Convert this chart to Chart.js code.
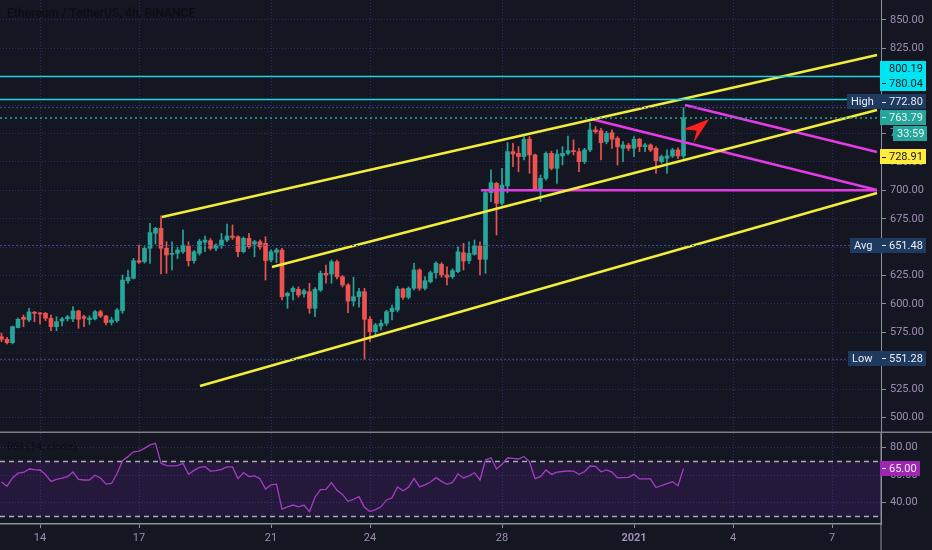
<!DOCTYPE html>
<html>
<head>
<meta charset="utf-8">
<script src="https://cdn.jsdelivr.net/npm/chart.js@4.4.0/dist/chart.umd.min.js"></script>
<style>
  html, body { margin: 0; padding: 0; background: #141722; }
  #wrap { position: relative; width: 932px; height: 550px; overflow: hidden; background: #141722; }
  canvas { position: absolute; left: 0; }
  #price { top: 0; }
  #rsi { top: 433px; }
</style>
</head>
<body>
<div id="wrap">
  <canvas id="price" width="932" height="433"></canvas>
  <canvas id="rsi" width="932" height="117"></canvas>
</div>
<script>
// ETH/USDT 4h bars, time in days from Dec 14 00:00, first bar Dec 12 20:00
const firstBar = -7 / 6
const barStep = 1 / 6

const opens = [
  571.2, 568.9, 565.9, 579.2, 588.3, 585.9, 592.7, 591.9, 591.8, 587.4,
  580.0, 585.0, 587.0, 586.8, 593.8, 588.8, 586.2, 586.8, 593.2, 589.4,
  583.9, 585.3, 594.1, 620.5, 622.6, 638.1, 637.2, 649.0, 662.2, 666.6,
  649.0, 643.7, 644.6, 646.0, 651.0, 638.1, 644.6, 654.3, 655.7, 649.0,
  651.3, 656.3, 659.8, 659.2, 646.0, 657.8, 652.8, 654.8, 653.4, 638.7,
  645.5, 647.5, 607.0, 610.8, 612.9, 608.8, 610.8, 596.2, 612.3, 627.0,
  626.4, 637.2, 624.0, 616.7, 602.6, 606.4, 610.8, 586.5, 575.6, 580.6,
  583.0, 593.2, 594.7, 613.2, 605.9, 613.8, 629.9, 613.8, 619.6, 627.5,
  634.9, 625.5, 624.0, 628.4, 645.1, 638.1, 643.7, 651.0, 639.3, 698.0,
  706.2, 688.6, 703.9, 734.1, 732.6, 729.7, 745.0, 731.2, 700.9, 710.6,
  732.6, 719.4, 730.3, 732.6, 734.9, 734.1, 725.3, 735.6, 753.2, 752.5,
  742.9, 750.8, 745.9, 737.1, 739.8, 737.1, 745.0, 738.5, 740.0, 737.0,
  725.3, 728.3, 730.3, 735.6, 730.3
]
const highs = [
  574.2, 570.7, 580.6, 587.5, 590.3, 596.2, 593.5, 592.5, 592.5, 590.3,
  588.8, 588.3, 590.0, 597.6, 594.5, 590.3, 589.6, 594.5, 594.5, 590.0,
  588.3, 596.0, 625.5, 629.9, 640.2, 651.9, 650.5, 671.0, 667.5, 677.5,
  654.8, 654.8, 650.0, 665.1, 654.8, 647.0, 657.0, 659.8, 657.6, 653.0,
  662.2, 670.4, 669.5, 660.0, 659.0, 662.2, 656.0, 656.5, 659.2, 647.6,
  649.0, 649.0, 610.5, 615.2, 615.0, 613.0, 618.2, 614.5, 629.0, 634.3,
  638.7, 638.7, 625.0, 618.0, 623.5, 613.8, 613.8, 588.8, 583.0, 585.9,
  594.5, 599.1, 615.6, 614.0, 615.0, 635.8, 631.0, 624.0, 629.0, 637.2,
  636.3, 632.8, 631.0, 650.4, 653.4, 654.8, 656.3, 654.8, 700.0, 718.0,
  707.0, 719.4, 742.0, 741.4, 738.5, 747.3, 747.3, 732.0, 713.5, 734.0,
  734.5, 735.6, 738.5, 747.9, 744.4, 737.0, 737.0, 759.6, 756.1, 754.7,
  752.0, 753.2, 747.3, 742.9, 741.5, 747.3, 745.9, 741.5, 741.0, 738.5,
  731.2, 735.6, 737.0, 737.5, 772.8
]
const lows = [
  566.8, 564.8, 564.8, 579.0, 580.0, 584.4, 584.4, 582.4, 585.3, 576.5,
  576.5, 580.6, 585.0, 584.4, 578.6, 580.0, 582.0, 585.9, 588.0, 581.5,
  581.5, 584.0, 591.8, 618.2, 622.0, 635.8, 636.0, 635.8, 652.8, 626.4,
  627.0, 629.9, 640.0, 644.6, 633.4, 636.0, 643.0, 646.0, 647.5, 647.0,
  649.0, 654.8, 656.9, 641.6, 645.0, 649.0, 641.6, 648.0, 621.1, 637.0,
  636.3, 603.5, 596.2, 603.5, 606.0, 606.0, 591.8, 588.8, 611.0, 618.2,
  618.2, 622.0, 615.0, 592.3, 598.2, 597.1, 551.28, 566.8, 572.7, 577.1,
  581.0, 585.9, 593.0, 604.0, 604.5, 612.3, 612.0, 612.3, 618.5, 622.6,
  623.5, 616.7, 622.5, 627.5, 629.9, 635.8, 643.0, 625.5, 627.0, 690.0,
  660.7, 687.0, 698.0, 720.9, 716.4, 726.8, 715.0, 700.0, 690.0, 709.0,
  718.0, 706.2, 722.4, 731.2, 731.2, 716.4, 723.5, 734.1, 750.2, 726.8,
  741.0, 737.0, 722.4, 725.3, 735.0, 729.7, 734.1, 734.0, 734.0, 715.0,
  723.8, 715.0, 729.0, 728.0, 728.3
]
const closes = [
  568.9, 565.9, 580.0, 586.5, 586.5, 593.0, 591.8, 591.2, 587.4, 580.0,
  584.4, 586.8, 588.6, 593.8, 586.5, 587.4, 587.5, 593.2, 589.4, 583.5,
  585.9, 594.7, 621.1, 623.5, 638.1, 636.7, 649.0, 662.8, 666.6, 649.0,
  643.1, 644.6, 647.5, 651.9, 638.1, 646.0, 655.2, 656.3, 649.0, 651.9,
  656.3, 659.8, 658.7, 646.0, 657.8, 650.4, 654.8, 650.4, 638.1, 646.0,
  647.5, 606.4, 609.4, 613.8, 607.9, 611.7, 596.2, 612.9, 627.0, 625.5,
  637.2, 624.0, 616.7, 602.6, 606.4, 610.8, 586.5, 575.6, 581.5, 583.0,
  593.2, 596.2, 613.2, 605.9, 613.8, 629.9, 613.8, 620.5, 627.5, 635.8,
  625.5, 623.5, 629.3, 646.0, 637.8, 644.6, 651.0, 639.3, 698.0, 706.8,
  688.6, 704.7, 734.1, 732.0, 729.7, 745.0, 731.2, 700.9, 710.6, 732.6,
  719.4, 732.0, 732.6, 734.9, 734.1, 725.3, 735.6, 753.2, 751.7, 742.0,
  750.2, 745.0, 738.5, 740.0, 737.1, 745.0, 738.5, 740.0, 735.6, 726.1,
  729.7, 730.3, 735.6, 730.3, 763.79
]
const rsiValues = [
  55, 52, 58, 61.5, 62, 64.5, 64, 63.8, 60.5, 55.5,
  57, 57.8, 58.9, 62.3, 57, 56.5, 56.5, 60, 58, 53.5,
  54, 61, 70.5, 73.5, 77, 77.5, 79.5, 82, 83.2, 68.6,
  67, 66.8, 67, 68.6, 60.6, 63.5, 65.7, 66.2, 63, 63.4,
  64.2, 66, 66, 57.5, 61.9, 59, 59.5, 57.5, 50, 52.9,
  53.5, 35.4, 37, 38.3, 37, 38.3, 33.5, 44, 49.5, 49.7,
  54.6, 49, 46, 41, 42.5, 44.4, 36.6, 33.5, 35, 37,
  42, 43.5, 51.5, 48.7, 51.3, 57.7, 51.5, 53, 55, 58.2,
  55.5, 53.4, 54.8, 61, 58, 59.5, 61.8, 56.5, 71, 72.7,
  64.5, 67.9, 72.5, 72.2, 71.8, 73.5, 69.8, 57.5, 58.9, 63.8,
  60.6, 62.3, 62.7, 63.1, 63, 60.6, 62.5, 66.7, 66.5, 62.5,
  63.8, 62.3, 58, 58.2, 58.4, 60.6, 57.3, 57.3, 57.3, 51,
  52.5, 53.8, 55.3, 52.3, 65
]

const dayTicks = [0, 3, 7, 10, 14, 18, 21, 24]
const dayLabels = ['14', '17', '21', '24', '28', '2021', '4', '7']
const priceTicks = [500, 525, 550, 575, 600, 625, 650, 675, 700, 725, 750, 775, 800, 825, 850]
const rsiTicks = [40, 60, 80]
const rsiBands = [70, 30]

const alertLevels = [800.19, 780.04]
const avgLevel = 651.48
const markLevel = 728.91
const countdown = '33:59'

// drawings, [day, price]
const channelTop = [[3.697, 676.6], [25.364, 819.2]]
const channelMid = [[7.03, 632.6], [25.364, 770.8]]
const channelLow = [[4.848, 527.8], [25.364, 697.7]]
const pinkFlat = [[13.364, 700.2], [25.364, 700.2]]
const pinkFall = [[16.697, 762.8], [25.364, 700.3]]
const pinkTop = [[19.545, 775.2], [25.364, 733.8]]
const arrowShape = [[20.28, 762.8], [19.49, 753.8], [19.9, 752.5], [19.8, 741.4]]

// axis windows
const xMin = -40 / 33, xMax = 841 / 33
const priceMin = 486.4, priceMax = 867.6
const rsiMin = 24.5, rsiMax = 90.7

const UP = '#26a69a', DOWN = '#ef5350'
const GRID = '#2c2f6a'
const LABEL = '#a08cb4'
const AXIS = '#8c8f9a'
const FONT = 'Roboto, "Noto Sans", sans-serif'

Chart.defaults.font.family = FONT
Chart.defaults.font.size = 11

const times = opens.map((_, i) => firstBar + i * barStep)
const barColors = opens.map((o, i) => closes[i] >= o ? UP : DOWN)
const highMax = Math.max(...highs)
const lowMin = Math.min(...lows)
const lastClose = closes[closes.length - 1]
const lastRsi = rsiValues[rsiValues.length - 1]

const pts = arr => arr.map(([x, y]) => ({x, y}))
const flat = v => [{x: xMin, y: v}, {x: xMax, y: v}]
const line = (data, color, width, dash) => ({
  type: 'line', data, borderColor: color, borderWidth: width, borderDash: dash || [],
  pointRadius: 0, fill: false, tension: 0, order: 0
})

// no label overflow padding, the panels are pinned to the canvas edges
const fitY = s => { s.width = 51; s.paddingTop = 0; s.paddingBottom = 0 }
const fitX = h => s => { s.height = h; s.paddingLeft = 0; s.paddingRight = 0 }

function tag(ctx, x1, yc, bg, fg, text, opts) {
  opts = opts || {}
  ctx.font = '11px ' + FONT
  const tx = opts.tx || 889
  const w = ctx.measureText(text).width
  const x2 = opts.x2 || Math.round(tx + w + 3)
  ctx.fillStyle = bg
  ctx.fillRect(x1, Math.round(yc - 7.5), x2 - x1, 15)
  ctx.fillStyle = fg
  ctx.textBaseline = 'middle'
  ctx.textAlign = 'left'
  ctx.fillText(text, tx, yc + 0.5)
  if (opts.dash) {
    ctx.strokeStyle = fg
    ctx.lineWidth = 1
    ctx.beginPath()
    ctx.moveTo(882, Math.round(yc) + 0.5)
    ctx.lineTo(886, Math.round(yc) + 0.5)
    ctx.stroke()
  }
  if (opts.name) ctx.fillText(opts.name, x1 + 4, yc + 0.5)
}

const pricePlugin = {
  id: 'priceDecor',
  afterDraw(chart) {
    const {ctx, scales: {x, y}} = chart
    ctx.save()
    // title
    ctx.font = '600 12px ' + FONT
    ctx.fillStyle = '#0b0d13'
    ctx.textBaseline = 'middle'
    ctx.fillText('Ethereum / TetherUS, 4h, BINANCE', 7, 14)
    // arrow
    ctx.fillStyle = '#ff1f1f'
    ctx.beginPath()
    arrowShape.forEach(([d, p], i) => {
      const px = x.getPixelForValue(d), py = y.getPixelForValue(p)
      i ? ctx.lineTo(px, py) : ctx.moveTo(px, py)
    })
    ctx.closePath()
    ctx.fill()
    // right side tags
    const py = v => y.getPixelForValue(v)
    tag(ctx, 880, py(alertLevels[0]) - 8, '#00e5f2', '#131722', alertLevels[0].toFixed(2))
    tag(ctx, 880, py(alertLevels[1]) - 16, '#00e5f2', '#131722', alertLevels[1].toFixed(2), {dash: true})
    tag(ctx, 847, py(highMax) - 6, '#1e3a5f', '#e9edf5', highMax.toFixed(2), {dash: true, name: 'High'})
    tag(ctx, 880, py(lastClose) - 0.5, '#26a69a', '#eaf6f4', lastClose.toFixed(2), {dash: true})
    tag(ctx, 893, py(lastClose) + 16, '#26a69a', '#eaf6f4', countdown, {tx: 897})
    tag(ctx, 880, py(markLevel) - 1, '#ffeb3b', '#131722', markLevel.toFixed(2), {dash: true})
    tag(ctx, 850, py(avgLevel), '#1e3a5f', '#e9edf5', avgLevel.toFixed(2), {dash: true, name: 'Avg'})
    tag(ctx, 848, py(lowMin) - 1, '#1e3a5f', '#e9edf5', lowMin.toFixed(2), {dash: true, name: 'Low'})
    // panel separator
    ctx.fillStyle = '#7c7f8a'
    ctx.fillRect(0, chart.height - 1.5, chart.width, 1.5)
    ctx.restore()
  }
}

new Chart(document.getElementById('price'), {
  type: 'bar',
  data: {
    datasets: [
      line(flat(alertLevels[0]), '#22d3e6', 1.5),
      line(flat(alertLevels[1]), '#22d3e6', 1.5),
      line(flat(lastClose), '#26a69a', 1.5, [2, 3]),
      line(flat(highMax), '#3b4f86', 1, [2, 2]),
      line(flat(avgLevel), '#3b4f86', 1, [2, 2]),
      line(flat(lowMin), '#3b4f86', 1, [2, 2]),
      line(pts(channelTop), '#f2ec3a', 2.5),
      line(pts(channelMid), '#f2ec3a', 2.5),
      line(pts(channelLow), '#f2ec3a', 2.5),
      line(pts(pinkFlat), '#e33be6', 2.5),
      line(pts(pinkFall), '#e33be6', 2.5),
      line(pts(pinkTop), '#e33be6', 2.5),
      {
        label: 'wick', order: 3, grouped: false, barThickness: 1,
        data: times.map((t, i) => ({x: t, y: [lows[i], highs[i]]})),
        backgroundColor: barColors
      },
      {
        label: 'body', order: 2, grouped: false, barThickness: 4, minBarLength: 1,
        data: times.map((t, i) => ({x: t, y: [opens[i], closes[i]]})),
        backgroundColor: barColors
      }
    ]
  },
  options: {
    responsive: false,
    animation: false,
    events: [],
    layout: {padding: 0, autoPadding: false},
    plugins: {legend: {display: false}, tooltip: {enabled: false}},
    scales: {
      x: {
        type: 'linear', min: xMin, max: xMax, bounds: 'data', offset: false,
        afterBuildTicks: s => { s.ticks = dayTicks.map(v => ({value: v})) },
        afterFit: fitX(0),
        ticks: {display: false},
        grid: {color: GRID, lineWidth: 1, drawTicks: false, offset: false},
        border: {display: false, dash: [1, 2]}
      },
      y: {
        position: 'right', min: priceMin, max: priceMax, bounds: 'data',
        afterBuildTicks: s => { s.ticks = priceTicks.map(v => ({value: v})) },
        afterFit: fitY,
        ticks: {color: LABEL, padding: 4, callback: v => v.toFixed(2), font: {size: 11}},
        grid: {color: GRID, lineWidth: 1, tickLength: 5, tickColor: AXIS},
        border: {display: true, color: AXIS, width: 1, dash: [1, 2]}
      }
    }
  },
  plugins: [pricePlugin]
})

const rsiPlugin = {
  id: 'rsiDecor',
  afterDraw(chart) {
    const {ctx, chartArea, scales: {y}} = chart
    ctx.save()
    ctx.font = '11px ' + FONT
    ctx.fillStyle = '#0b0d13'
    ctx.textBaseline = 'middle'
    ctx.fillText('RSI (14, close)', 7, 14)
    ctx.fillStyle = AXIS
    ctx.fillRect(chartArea.right - 0.5, 0, 1, chart.height)
    tag(ctx, 880, y.getPixelForValue(lastRsi), '#9c27b0', '#f6e9f8', lastRsi.toFixed(2), {dash: true})
    ctx.restore()
  }
}

new Chart(document.getElementById('rsi'), {
  type: 'line',
  data: {
    datasets: [
      {
        data: times.map((t, i) => ({x: t, y: rsiValues[i]})),
        borderColor: '#a73cc4', borderWidth: 1.3, pointRadius: 0, tension: 0, fill: false, order: 0
      },
      {
        data: flat(rsiBands[0]), borderColor: '#a9acb6', borderWidth: 1.5, borderDash: [5, 4],
        pointRadius: 0, fill: false, order: 1
      },
      {
        data: flat(rsiBands[1]), borderColor: '#a9acb6', borderWidth: 1.5, borderDash: [5, 4],
        pointRadius: 0, fill: '-1', backgroundColor: 'rgba(126, 40, 190, 0.16)', order: 1
      }
    ]
  },
  options: {
    responsive: false,
    animation: false,
    events: [],
    layout: {padding: 0, autoPadding: false},
    plugins: {legend: {display: false}, tooltip: {enabled: false}},
    scales: {
      x: {
        type: 'linear', min: xMin, max: xMax, bounds: 'data', offset: false,
        afterBuildTicks: s => { s.ticks = dayTicks.map(v => ({value: v})) },
        afterFit: fitX(26),
        ticks: {
          color: LABEL, padding: 4, autoSkip: false, maxRotation: 0,
          callback: (v, i) => dayLabels[i],
          font: c => ({size: 11, weight: c.tick && c.tick.label === '2021' ? 'bold' : 'normal'})
        },
        grid: {color: GRID, lineWidth: 1, tickLength: 4, tickColor: AXIS},
        border: {display: true, color: AXIS, width: 1.5, dash: [1, 2]}
      },
      y: {
        position: 'right', min: rsiMin, max: rsiMax, bounds: 'data',
        afterBuildTicks: s => { s.ticks = rsiTicks.map(v => ({value: v})) },
        afterFit: fitY,
        ticks: {color: LABEL, padding: 4, callback: v => v.toFixed(2), font: {size: 11}},
        grid: {color: GRID, lineWidth: 1, tickLength: 5, tickColor: AXIS},
        border: {display: true, color: AXIS, width: 1, dash: [1, 2]}
      }
    }
  },
  plugins: [rsiPlugin]
})
</script>
</body>
</html>
